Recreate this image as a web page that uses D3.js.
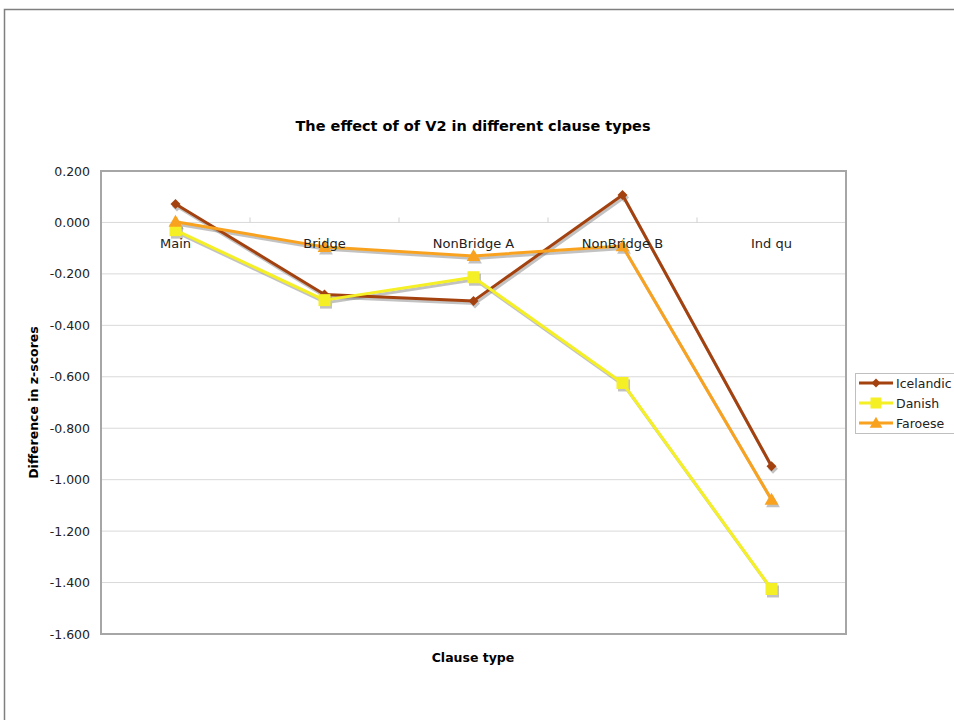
<!DOCTYPE html>
<html>
<head>
<meta charset="utf-8">
<script src="https://cdn.jsdelivr.net/npm/d3@7"></script>
<style>
  html, body { margin: 0; padding: 0; background: #fff; }
  svg { display: block; font-family: "DejaVu Sans", Verdana, sans-serif; }
</style>
</head>
<body>
<svg id="chart" width="954" height="720"></svg>
<script>
// Clause types on the x axis
const categories = ["Main", "Bridge", "NonBridge A", "NonBridge B", "Ind qu"];

// Difference in z-scores per language
const icelandic = [0.072, -0.280, -0.305, 0.107, -0.948];
const danish    = [-0.030, -0.302, -0.213, -0.624, -1.425];
const faroese   = [0.003, -0.095, -0.130, -0.092, -1.078];

const seriesNames = ["Icelandic", "Danish", "Faroese"];
const yTicks = [0.2, 0, -0.2, -0.4, -0.6, -0.8, -1.0, -1.2, -1.4, -1.6];

const series = [
  { name: seriesNames[0], values: icelandic, color: "#a3410f", shape: "diamond" },
  { name: seriesNames[1], values: danish,    color: "#f5ef25", shape: "square" },
  { name: seriesNames[2], values: faroese,   color: "#f8a21f", shape: "triangle" }
];

const svg = d3.select("#chart");

// outer frame of the chart object
svg.append("rect")
  .attr("x", 4.5).attr("y", 9.5)
  .attr("width", 980).attr("height", 760)
  .attr("fill", "#fff").attr("stroke", "#7f7f7f").attr("stroke-width", 1.5);

const plot = { left: 101, top: 171, right: 846, bottom: 634 };

const x = d3.scaleBand().domain(categories).range([plot.left, plot.right]);
const y = d3.scaleLinear().domain([-1.6, 0.2]).range([plot.bottom, plot.top]);

// gridlines
svg.append("g")
  .selectAll("line")
  .data(yTicks)
  .join("line")
  .attr("x1", plot.left).attr("x2", plot.right)
  .attr("y1", d => y(d)).attr("y2", d => y(d))
  .attr("stroke", "#d9d9d9").attr("stroke-width", 1);

// plot area frame
svg.append("rect")
  .attr("x", plot.left).attr("y", plot.top)
  .attr("width", plot.right - plot.left).attr("height", plot.bottom - plot.top)
  .attr("fill", "none").attr("stroke", "#a6a6a6").attr("stroke-width", 2);

// y axis
const yAxis = d3.axisLeft(y).tickValues(yTicks).tickFormat(d3.format(".3f")).tickSize(0).tickPadding(11);
const yg = svg.append("g").attr("transform", `translate(${plot.left},0)`).call(yAxis);
yg.select(".domain").remove();
yg.selectAll("text").attr("font-size", 12.5).attr("fill", "#222")
  .attr("font-family", "DejaVu Sans, Verdana, sans-serif")
  .text(d => d3.format(".3f")(d).replace("−", "-"));

// small tick marks between categories on the zero line
svg.append("g")
  .selectAll("line")
  .data(categories.slice(1))
  .join("line")
  .attr("x1", d => x(d)).attr("x2", d => x(d))
  .attr("y1", y(0) - 5).attr("y2", y(0))
  .attr("stroke", "#d0d0d0");

const cx = d => x(d) + x.bandwidth() / 2;

function markerPath(shape, s) {
  if (shape === "diamond") return `M0,${-s}L${s},0L0,${s}L${-s},0Z`;
  if (shape === "square") return `M${-s},${-s}H${s}V${s}H${-s}Z`;
  return `M0,${-s * 1.15}L${s * 1.15},${s * 0.85}L${-s * 1.15},${s * 0.85}Z`;
}
const markerSize = { diamond: 5, square: 6, triangle: 6 };

const line = d3.line()
  .x((d, i) => cx(categories[i]))
  .y(d => y(d));

// drop shadows
series.forEach(s => {
  const g = svg.append("g").attr("transform", "translate(1.5,2.5)").attr("opacity", 0.45);
  g.append("path").attr("d", line(s.values))
    .attr("fill", "none").attr("stroke", "#7a7a7a").attr("stroke-width", 3);
  g.selectAll("path.m").data(s.values).join("path").attr("class", "m")
    .attr("transform", (d, i) => `translate(${cx(categories[i])},${y(d)})`)
    .attr("d", markerPath(s.shape, markerSize[s.shape]))
    .attr("fill", "#7a7a7a");
});

// series lines and markers
series.forEach(s => {
  const g = svg.append("g");
  g.append("path").attr("d", line(s.values))
    .attr("fill", "none").attr("stroke", s.color).attr("stroke-width", 3)
    .attr("stroke-linejoin", "round");
  g.selectAll("path.m").data(s.values).join("path").attr("class", "m")
    .attr("transform", (d, i) => `translate(${cx(categories[i])},${y(d)})`)
    .attr("d", markerPath(s.shape, markerSize[s.shape]))
    .attr("fill", s.color);
});

// category axis crossing at zero, labels drawn above the series
const xAxis = d3.axisBottom(x).tickSize(0).tickPadding(16);
const xg = svg.append("g").attr("transform", `translate(0,${y(0)})`).call(xAxis);
xg.select(".domain").remove();
xg.selectAll("text").attr("font-size", 13).attr("fill", "#222")
  .attr("font-family", "DejaVu Sans, Verdana, sans-serif");

// titles
svg.append("text")
  .attr("x", 473).attr("y", 131)
  .attr("text-anchor", "middle").attr("font-size", 14.5).attr("font-weight", "bold")
  .attr("fill", "#000")
  .text("The effect of of V2 in different clause types");

svg.append("text")
  .attr("x", 473).attr("y", 662)
  .attr("text-anchor", "middle").attr("font-size", 12.5).attr("font-weight", "bold")
  .attr("fill", "#000")
  .text("Clause type");

svg.append("text")
  .attr("transform", `translate(38,${(plot.top + plot.bottom) / 2}) rotate(-90)`)
  .attr("text-anchor", "middle").attr("font-size", 12.5).attr("font-weight", "bold")
  .attr("fill", "#000")
  .text("Difference in z-scores");

// legend
const legend = svg.append("g").attr("transform", "translate(855,373)");
legend.append("rect")
  .attr("x", 0.5).attr("y", 0.5).attr("width", 120).attr("height", 60)
  .attr("fill", "#fff").attr("stroke", "#bfbfbf");
series.forEach((s, i) => {
  const row = legend.append("g").attr("transform", `translate(0,${10 + i * 20})`);
  row.append("line").attr("x1", 4).attr("x2", 38).attr("y1", 0).attr("y2", 0)
    .attr("stroke", s.color).attr("stroke-width", 3);
  row.append("path").attr("transform", "translate(21,0)")
    .attr("d", markerPath(s.shape, markerSize[s.shape] - 0.5)).attr("fill", s.color);
  row.append("text").attr("x", 41).attr("y", 4.5)
    .attr("font-size", 12.5).attr("fill", "#222").text(s.name);
});
</script>
</body>
</html>
